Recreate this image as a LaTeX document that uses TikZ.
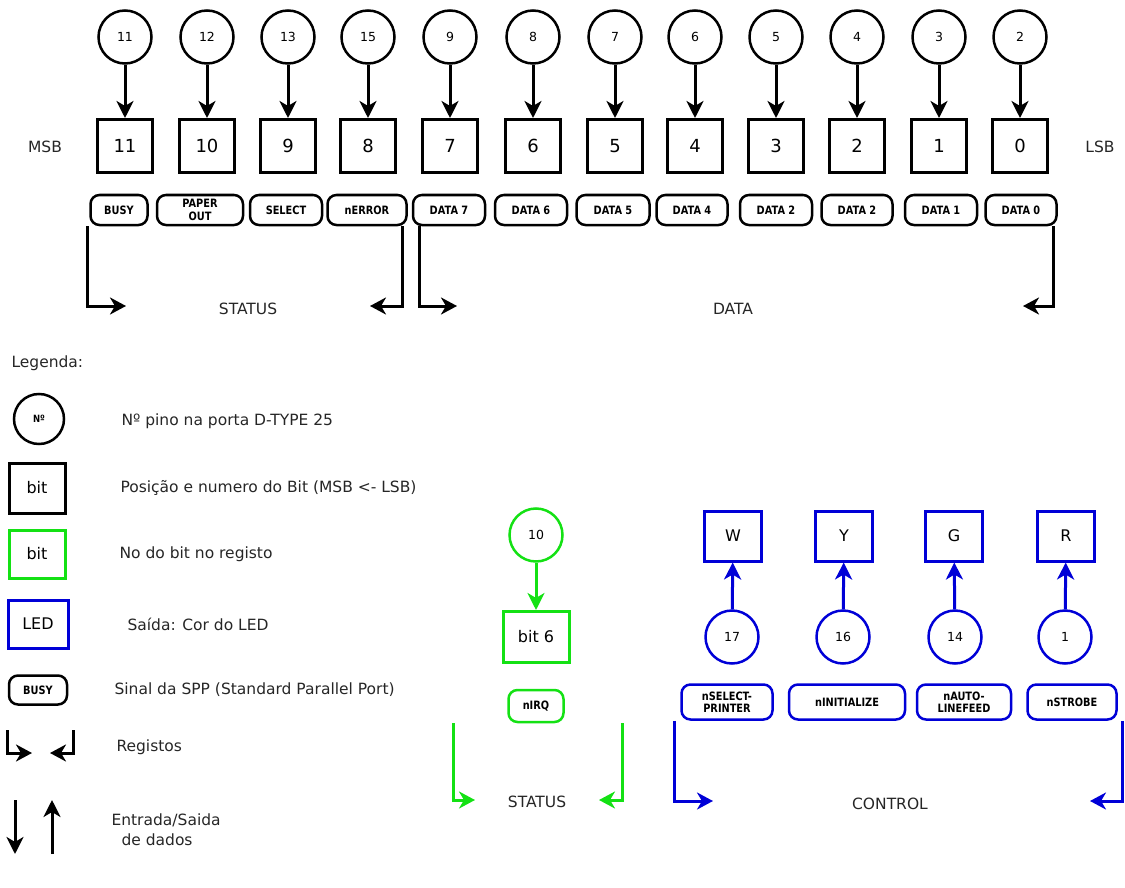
\documentclass[tikz,border=0pt]{standalone}
\usepackage{fontspec}
\setmainfont{DejaVu Sans}
\newfontfamily\sigfont{DejaVu Sans}[FakeStretch=0.85]
\usetikzlibrary{arrows.meta}
\definecolor{regGreen}{RGB}{20,225,20}
\definecolor{ledBlue}{RGB}{0,0,215}

\begin{document}
\begin{tikzpicture}[x=1pt, y=-1pt,
    pinnode/.style={draw, circle, line width=2.5pt, minimum size=53pt, inner sep=0pt, font=\fontsize{12.5}{14}\selectfont},
    bitbox/.style={draw, line width=3pt, minimum width=55pt, minimum height=53pt, font=\fontsize{18}{20}\selectfont},
    sigbox/.style={draw, line width=2.5pt, rounded corners=9pt, minimum height=30pt, inner sep=1pt, align=center, font=\sigfont\bfseries\fontsize{11.5}{12.5}\selectfont},
    linkarrow/.style={line width=3pt, -{Stealth[length=17pt, width=17pt, inset=5pt]}},
    regarrow/.style={line width=3pt, -{Stealth[length=16pt, width=17pt, inset=5pt]}},
    plain/.style={font=\fontsize{15.5}{18}\selectfont, text=black!85}]
    \useasboundingbox (0,0) rectangle (1125,888);

    \foreach \x/\sx/\pin/\bit/\sig/\w [count=\k] in {125/119/11/11/BUSY/57, 207/200/12/10/{PAPER\\OUT}/86,
        288/286/13/9/SELECT/72, 368/367/15/8/nERROR/79, 450/449/9/7/DATA 7/72, 533/531/8/6/DATA 6/72,
        615/613/7/5/DATA 5/73, 695/692/6/4/DATA 4/71, 776/776/5/3/DATA 2/72, 857/857/4/2/DATA 2/71,
        939/941/3/1/DATA 1/72, 1020/1021/2/0/DATA 0/71}
    {
        \node[pinnode] (pin\k) at (\x,37) {\pin};
        \node[bitbox] (bit\k) at (\x,146) {\bit};
        \node[sigbox, minimum width=\w pt] (sig\k) at (\sx,210) {\sig};
        \draw[linkarrow] (pin\k) -- (bit\k);
    }
    \node[plain] (msb) at (45,147) {MSB};
    \node[plain] (lsb) at (1100,147) {LSB};

    \coordinate (stL) at (126,306);
    \coordinate (stR) at (370,306);
    \coordinate (dtL) at (457,306);
    \coordinate (dtR) at (1023,306);
    \draw[regarrow] ([xshift=-2pt]sig1.south west) |- (stL);
    \draw[regarrow] ([xshift=-5pt]sig4.south east) |- (stR);
    \draw[regarrow] ([xshift=8pt]sig5.south west) |- (dtL);
    \draw[regarrow] ([xshift=-4pt]sig12.south east) |- (dtR);
    \node[plain] (status) at (248,309) {STATUS};
    \node[plain] (data) at (733,309) {DATA};

    \node[plain, anchor=west] (legenda) at (8,363) {Legenda:};
    \node[pinnode, minimum size=50pt, font=\sigfont\bfseries\fontsize{10}{11}\selectfont] (lgPin) at (39,419) {Nº};
    \node[plain, anchor=west] (lgPinTxt) at (118,421) {Nº pino na porta D-TYPE 25};
    \node[bitbox, minimum width=56pt, minimum height=50pt, font=\fontsize{16}{18}\selectfont] (lgBit) at (37,488) {bit};
    \node[plain, anchor=west] (lgBitTxt) at (117,488) {Posição e numero do Bit (MSB <- LSB)};
    \node[bitbox, draw=regGreen, minimum width=56pt, minimum height=48pt, font=\fontsize{16}{18}\selectfont] (lgReg) at (37,554) {bit};
    \node[plain, anchor=west] (lgRegTxt) at (116,554) {No do bit no registo};
    \node[bitbox, draw=ledBlue, minimum width=60pt, minimum height=48pt, font=\fontsize{16}{18}\selectfont] (lgLed) at (38,624) {LED};
    \node[plain, anchor=west] (lgLedTxt) at (124,624) {Saída: Cor do LED};
    \node[sigbox, minimum width=58pt, minimum height=29pt] (lgSig) at (38,690) {BUSY};
    \node[plain, anchor=west] (lgSigTxt) at (111,690) {Sinal da SPP (Standard Parallel Port)};
    \coordinate (lgRegL) at (7,730);
    \coordinate (lgRegLtip) at (32,753);
    \coordinate (lgRegR) at (73,730);
    \coordinate (lgRegRtip) at (50,753);
    \draw[regarrow] (lgRegL) |- (lgRegLtip);
    \draw[regarrow] (lgRegR) |- (lgRegRtip);
    \node[plain, anchor=west] (lgRegsTxt) at (113,747) {Registos};
    \coordinate (lgInTop) at (15,800);
    \coordinate (lgInBot) at (15,854);
    \coordinate (lgOutTop) at (52,800);
    \coordinate (lgOutBot) at (52,854);
    \draw[linkarrow] (lgInTop) -- (lgInBot);
    \draw[linkarrow] (lgOutBot) -- (lgOutTop);
    \node[plain, anchor=west] (lgIO) at (108,820) {Entrada/Saida};
    \node[plain, anchor=west] (lgIO2) at (118,840) {de dados};

    \node[pinnode, draw=regGreen] (g10) at (536,535) {10};
    \node[bitbox, draw=regGreen, minimum width=66pt, minimum height=51pt, font=\fontsize{16}{18}\selectfont] (gbit) at (536,637) {bit 6};
    \draw[linkarrow, regGreen] (g10) -- (gbit);
    \node[sigbox, draw=regGreen, minimum width=55pt, minimum height=32pt] (girq) at (536,706) {nIRQ};
    \coordinate (gsL) at (453,723);
    \coordinate (gsLtip) at (475,800);
    \coordinate (gsR) at (622,723);
    \coordinate (gsRtip) at (599,800);
    \draw[regarrow, regGreen] (gsL) |- (gsLtip);
    \draw[regarrow, regGreen] (gsR) |- (gsRtip);
    \node[plain] (gstatus) at (537,802) {STATUS};

    \foreach \x/\cx/\sx/\led/\pin/\sig/\w [count=\k] in {733/732/727/W/17/{nSELECT-\\PRINTER}/91,
        844/843/847/Y/16/nINITIALIZE/116, 954/955/964/G/14/{nAUTO-\\LINEFEED}/94, 1066/1065/1072/R/1/nSTROBE/89}
    {
        \node[bitbox, draw=ledBlue, minimum width=57pt, minimum height=50pt, font=\fontsize{16}{18}\selectfont] (led\k) at (\x,536) {\led};
        \node[pinnode, draw=ledBlue] (cpin\k) at (\cx,637) {\pin};
        \node[sigbox, draw=ledBlue, minimum width=\w pt, minimum height=35pt] (csig\k) at (\sx,702) {\sig};
        \draw[linkarrow, ledBlue] (cpin\k) -- (led\k);
    }
    \coordinate (ctL) at (713,801);
    \coordinate (ctR) at (1090,801);
    \draw[regarrow, ledBlue] ([xshift=-6pt]csig1.south west) |- (ctL);
    \draw[regarrow, ledBlue] ([xshift=5pt]csig4.south east) |- (ctR);
    \node[plain] (control) at (890,804) {CONTROL};
\end{tikzpicture}
\end{document}
